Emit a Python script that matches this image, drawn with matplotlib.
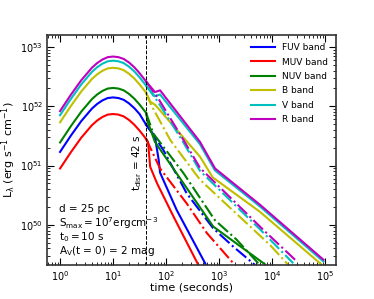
import numpy as np
import matplotlib
matplotlib.use("Agg")
import matplotlib.pyplot as plt

plt.rcParams['mathtext.default'] = 'regular'
plt.rcParams['font.family'] = 'DejaVu Sans'

# log10(t) and log10(L)
t_disr = 42
logt_rise = [0.0, 0.2, 0.4, 0.6, 0.7, 0.8, 0.9, 1.0, 1.1, 1.2, 1.3, 1.4, 1.5, 1.623]

rise_FUV = [51.23, 51.50, 51.75, 51.96, 52.04, 52.10, 52.14, 52.15, 52.14, 52.11, 52.05, 51.97, 51.87, 51.69]
rise_MUV = [50.95, 51.22, 51.47, 51.68, 51.76, 51.82, 51.86, 51.87, 51.86, 51.83, 51.77, 51.69, 51.59, 51.45]
rise_NUV = [51.39, 51.66, 51.91, 52.12, 52.20, 52.26, 52.30, 52.31, 52.30, 52.27, 52.21, 52.13, 52.03, 51.89]
rise_B = [51.73, 52.00, 52.25, 52.46, 52.54, 52.60, 52.64, 52.65, 52.64, 52.61, 52.55, 52.47, 52.37, 52.23]
rise_V = [51.85, 52.12, 52.37, 52.58, 52.66, 52.72, 52.76, 52.77, 52.76, 52.73, 52.67, 52.59, 52.49, 52.35]
rise_R = [51.92, 52.19, 52.44, 52.65, 52.73, 52.79, 52.83, 52.84, 52.83, 52.80, 52.74, 52.66, 52.56, 52.42]

# solid lines after disruption
sol_t_FUV = [1.623, 1.79, 1.86, 1.887, 2.2, 2.755]
sol_L_FUV = [51.69, 51.49, 51.10, 50.88, 50.25, 49.32]
sol_t_MUV = [1.623, 1.66, 1.70, 1.83, 2.14, 2.61]
sol_L_MUV = [51.45, 51.40, 50.98, 50.70, 50.14, 49.32]
sol_t_NUV = [1.623, 1.65, 1.79, 2.89, 3.87]
sol_L_NUV = [51.89, 51.75, 51.40, 49.97, 49.33]
sol_t_B = [1.623, 1.70, 1.80, 2.64, 2.88, 3.77, 4.97]
sol_L_B = [52.23, 52.08, 52.02, 51.15, 50.80, 50.22, 49.30]
sol_t_V = [1.623, 1.79, 1.887, 2.64, 2.92, 3.77, 4.97]
sol_L_V = [52.35, 52.17, 52.20, 51.36, 50.92, 50.31, 49.38]
sol_t_R = [1.623, 1.79, 1.887, 2.64, 2.925, 3.77, 4.97]
sol_L_R = [52.42, 52.24, 52.27, 51.40, 50.95, 50.34, 49.41]

# dash-dot lines after disruption
dd_t_FUV = [1.623, 1.76, 1.95, 2.39, 2.89, 3.27, 3.68]
dd_L_FUV = [51.69, 51.52, 51.26, 50.53, 49.94, 49.63, 49.32]
dd_t_MUV = [1.623, 1.887, 2.39, 2.77, 3.27]
dd_L_MUV = [51.45, 50.95, 50.36, 49.86, 49.35]
dd_t_NUV = [1.623, 1.76, 2.33, 2.92, 3.33, 3.74]
dd_L_NUV = [51.89, 51.54, 50.87, 50.08, 49.75, 49.35]
dd_t_B = [1.623, 1.72, 2.08, 2.64, 3.96, 4.30]
dd_L_B = [52.23, 52.02, 51.43, 50.76, 49.66, 49.33]
dd_t_V = [1.623, 1.85, 2.30, 2.64, 3.81, 4.40]
dd_L_V = [52.35, 52.07, 51.43, 50.91, 49.89, 49.35]
dd_t_R = [1.623, 1.855, 2.33, 2.64, 3.84, 4.47]
dd_L_R = [52.42, 52.13, 51.43, 50.96, 49.91, 49.38]

bands = ['FUV', 'MUV', 'NUV', 'B', 'V', 'R']
colors = ['b', 'r', 'g', 'y', 'c', 'm']
rises = [rise_FUV, rise_MUV, rise_NUV, rise_B, rise_V, rise_R]
sols = [(sol_t_FUV, sol_L_FUV), (sol_t_MUV, sol_L_MUV), (sol_t_NUV, sol_L_NUV),
        (sol_t_B, sol_L_B), (sol_t_V, sol_L_V), (sol_t_R, sol_L_R)]
dds = [(dd_t_FUV, dd_L_FUV), (dd_t_MUV, dd_L_MUV), (dd_t_NUV, dd_L_NUV),
       (dd_t_B, dd_L_B), (dd_t_V, dd_L_V), (dd_t_R, dd_L_R)]

fig = plt.figure(figsize=(3.74, 2.99), dpi=100)
ax = fig.add_axes([0.126, 0.114, 0.772, 0.769])

for b, c, r, s, d in zip(bands, colors, rises, sols, dds):
    ax.plot(10**np.array(logt_rise), 10**np.array(r), color=c, lw=1.5, label=b + ' band')
    ax.plot(10**np.array(s[0]), 10**np.array(s[1]), color=c, lw=1.5)
    ax.plot(10**np.array(d[0]), 10**np.array(d[1]), color=c, lw=1.5, ls='-.')

ax.axvline(t_disr, color='k', ls='--', lw=0.7)
ax.text(39, 1.1e51, r'$t_{disr}$ = 42 s', rotation=90, fontsize=7.5, ha='right', va='center')

ax.set_xscale('log')
ax.set_yscale('log')
ax.set_xlim(0.57, 1.6e5)
ax.set_ylim(2.1e49, 1.6e53)
ax.set_xlabel('time (seconds)', fontsize=8, labelpad=0)
ax.set_ylabel(r'L$_\lambda$ (erg s$^{-1}$ cm$^{-1}$)', fontsize=8)
ax.yaxis.set_label_coords(-0.1, 0.5)
ax.tick_params(which='both', direction='in', top=True, right=True, labelsize=7)
ax.tick_params(which='major', length=5, pad=3)
ax.tick_params(which='minor', length=2.5)
for sp in ax.spines.values():
    sp.set_color('#333333')
    sp.set_linewidth(1.2)

txt = ['d = 25 pc', r'S$_{max} = 10^7$ergcm$^{-3}$', r't$_0 = 10$ s', r'A$_V$(t = 0) = 2 mag']
for i, s in enumerate(txt):
    ax.text(0.04, 0.243 - i * 0.061, s, transform=ax.transAxes, fontsize=7.5, va='center')

ax.legend(loc='upper right', frameon=False, fontsize=6.5, handlelength=2.7,
          handletextpad=0.7, labelspacing=0.6)

fig.savefig('out.png', dpi=100)
